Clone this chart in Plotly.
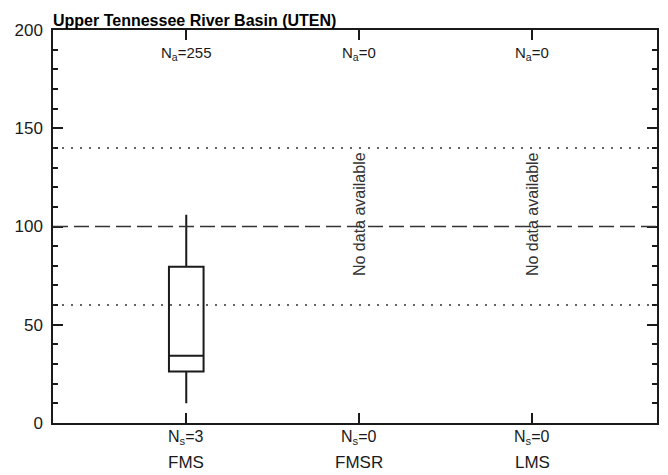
import plotly.graph_objects as go

title = "Upper Tennessee River Basin (UTEN)"
categories = ["FMS", "FMSR", "LMS"]
positions = [1, 2, 3]
n_all = [255, 0, 0]
n_sites = [3, 0, 0]
has_data = [True, False, False]

# box statistics for FMS
box_q1 = [26.2]
box_median = [34.2]
box_q3 = [79.5]
box_low = [10]
box_high = [106]

ref_dotted = [60, 140]
ref_dashed = [100]

FONT = "Liberation Sans, Arial, Helvetica, sans-serif"
INK = "#1a1a1a"

fig = go.Figure()
fig.add_trace(go.Box(
    x=[positions[0]], q1=box_q1, median=box_median, q3=box_q3,
    lowerfence=box_low, upperfence=box_high,
    width=0.2, whiskerwidth=0, boxpoints=False,
    line=dict(color=INK, width=2), fillcolor="rgba(0,0,0,0)",
    showlegend=False, hoverinfo="skip",
))

shapes = []
for v in ref_dotted:
    shapes.append(dict(type="line", xref="paper", x0=0, x1=1, yref="y", y0=v, y1=v,
                       line=dict(color="#333333", width=1.5, dash="2px,7px")))
for v in ref_dashed:
    shapes.append(dict(type="line", xref="paper", x0=0, x1=1, yref="y", y0=v, y1=v,
                       line=dict(color="#333333", width=1.5, dash="15px,6px")))

annotations = []
for p, c, na, ns, hd in zip(positions, categories, n_all, n_sites, has_data):
    annotations.append(dict(x=p, y=188, xref="x", yref="y", text=f"N<sub>a</sub>={na}",
                            showarrow=False, font=dict(size=15, color=INK, family=FONT)))
    annotations.append(dict(x=p, yref="paper", y=-0.038, xref="x", text=f"N<sub>s</sub>={ns}",
                            showarrow=False, yanchor="middle",
                            font=dict(size=16, color=INK, family=FONT)))
    annotations.append(dict(x=p, yref="paper", y=-0.101, xref="x", text=c,
                            showarrow=False, yanchor="middle",
                            font=dict(size=17, color=INK, family=FONT)))
    if not hd:
        annotations.append(dict(x=p, y=106.5, xref="x", yref="y", text="No data available",
                                textangle=-90, showarrow=False,
                                font=dict(size=16, color="#333333", family=FONT)))

fig.update_layout(
    width=668, height=475,
    margin=dict(l=53, r=9, t=30, b=52),
    paper_bgcolor="white", plot_bgcolor="white",
    font=dict(family=FONT, color=INK),
    title=dict(text=f"<b>{title}</b>", x=53 / 668, xanchor="left", y=1 - 20 / 475,
               yanchor="middle", font=dict(size=16, family=FONT, color="black")),
    shapes=shapes, annotations=annotations,
    xaxis=dict(range=[0.23, 3.72], tickvals=positions, ticktext=["", "", ""],
               ticks="inside", ticklen=10, tickwidth=1.5, tickcolor=INK,
               showline=True, linecolor=INK, linewidth=1.5, mirror="ticks",
               showgrid=False, zeroline=False),
    yaxis=dict(range=[0, 200], tickvals=[0, 50, 100, 150, 200],
               ticks="inside", ticklen=10, tickwidth=1.5, tickcolor=INK,
               tickfont=dict(size=17, family=FONT, color=INK), ticklabelstandoff=5,
               showline=True, linecolor=INK, linewidth=1.5, mirror="ticks",
               showgrid=False, zeroline=False,
               minor=dict(dtick=10, ticks="inside", ticklen=5, tickwidth=1.5, tickcolor=INK)),
)

fig.write_html("out.html")
